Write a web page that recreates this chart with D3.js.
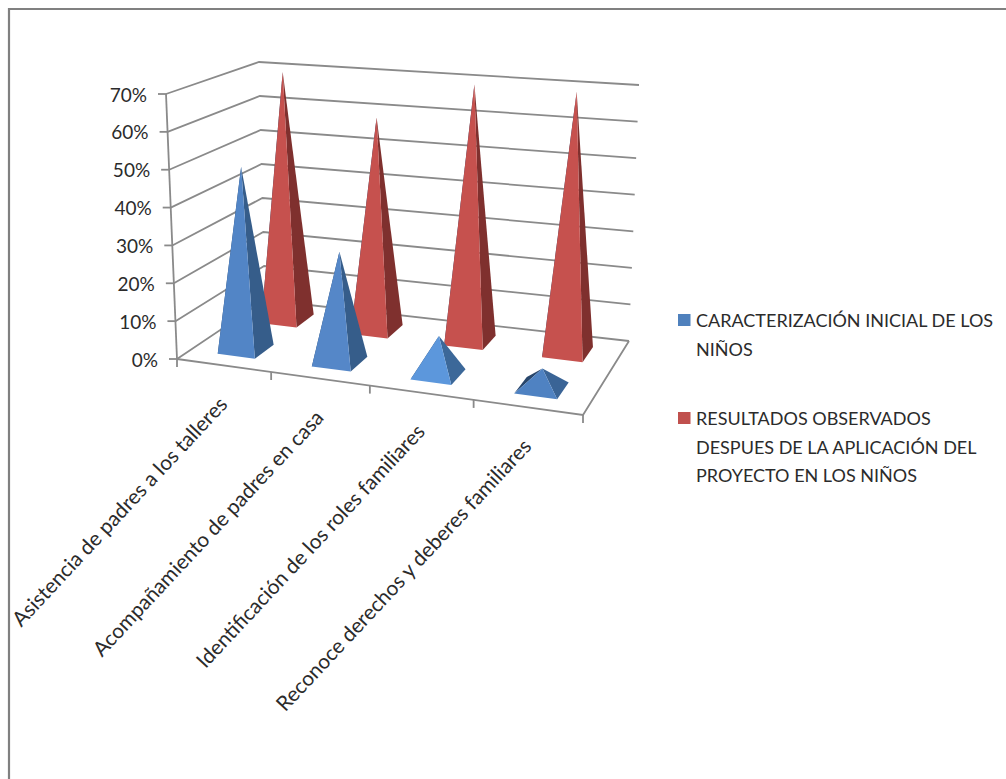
<!DOCTYPE html>
<html>
<head>
<meta charset="utf-8">
<script src="https://d3js.org/d3.v7.min.js"></script>
<style>
	body { margin: 0; background: #fff; }
	text { font-family: Lato, "Open Sans", sans-serif; fill: #2b2b2b; }
	.grid { stroke: #8a8a8a; stroke-width: 1.8; fill: none; }
</style>
</head>
<body>
<div id="viz"></div>
<script>
// data
categories = [
	'Asistencia de padres a los talleres',
	'Acompañamiento de padres en casa',
	'Identificación de los roles familiares',
	'Reconoce derechos y deberes familiares'
];
seriesNames = ['inicial', 'resultados'];
inicial = [49, 29, 10, 5];
resultados = [70, 59, 70, 70];
yTicks = [0, 10, 20, 30, 40, 50, 60, 70];
legendInicial = ['CARACTERIZACIÓN INICIAL DE LOS', 'NIÑOS'];
legendResultados = ['RESULTADOS OBSERVADOS', 'DESPUES DE LA APLICACIÓN DEL', 'PROYECTO EN LOS NIÑOS'];

// colours: front and side of each pyramid
blueFront = ['#5285c6', '#5587c8', '#5c97dc', '#4f82c2'];
blueSide = ['#365d8a', '#365d8a', '#3c6899', '#3a6496'];
blueBack = '#28466c';
redFront = '#c6514e';
redSide = '#7f302e';

width = 1006;
height = 779;

// the chart box as drawn: floor corners and top corners, in the order
// front left, front right, back right, back left
floorBox = [[177, 359], [583, 415], [629, 341], [265, 300]];
topBox = [[166, 94], [598, 132], [639, 85], [259, 62]];

// unit square -> quad perspective map
quadMap = function(q) {
	var dx1 = q[1][0] - q[2][0], dx2 = q[3][0] - q[2][0], sx = q[0][0] - q[1][0] + q[2][0] - q[3][0];
	var dy1 = q[1][1] - q[2][1], dy2 = q[3][1] - q[2][1], sy = q[0][1] - q[1][1] + q[2][1] - q[3][1];
	var den = dx1 * dy2 - dx2 * dy1;
	var g = (sx * dy2 - dx2 * sy) / den;
	var h = (dx1 * sy - sx * dy1) / den;
	var a = q[1][0] - q[0][0] + g * q[1][0], b = q[3][0] - q[0][0] + h * q[3][0];
	var d = q[1][1] - q[0][1] + g * q[1][1], e = q[3][1] - q[0][1] + h * q[3][1];
	return function(u, v) {
		var w = g * u + h * v + 1;
		return [(a * u + b * v + q[0][0]) / w, (d * u + e * v + q[0][1]) / w];
	};
};

perspective = quadMap(floorBox);

// blend of the four corners of a box, for one axis
blend = function(c, u, v) {
	return (1 - v) * ((1 - u) * c[0] + u * c[1]) + v * ((1 - u) * c[3] + u * c[2]);
};

// the picture's perspective is milder than the pure map, so soften it a bit
perspectiveShare = 0.72;
floorMap = function(u, v) {
	var p = perspective(u, v);
	return [0, 1].map(function(axis) {
		var flat = blend(floorBox.map(function(c) { return c[axis]; }), u, v);
		return p[axis] * perspectiveShare + flat * (1 - perspectiveShare);
	});
};

// how far the full height rises at a floor point
riseAt = function(u, v, axis) {
	var rise = topBox.map(function(t, i) { return t[axis] - floorBox[i][axis]; });
	return blend(rise, u, v);
};

// scales
yScale = d3.scaleLinear().domain([0, 70]).range([0, 1]);
xScale = d3.scaleBand().domain(categories).range([0, 1]).paddingInner(0.6).paddingOuter(0.3);
zScale = d3.scaleBand().domain(seriesNames).range([0, 1]).paddingInner(0.56).paddingOuter(0.28);
uTicks = d3.scaleLinear().domain([0, categories.length]).range([0, 1]);

project = function(u, v, value) {
	var f = floorMap(u, v), k = yScale(value);
	return [f[0] + riseAt(u, v, 0) * k, f[1] + riseAt(u, v, 1) * k];
};

svg = d3.select('#viz').append('svg')
	.attr('width', width)
	.attr('height', height);

// outer frame, only the top and left edges are in the picture
svg.append('path')
	.attr('d', 'M9,' + height + 'V9H' + width)
	.attr('fill', 'none')
	.attr('stroke', '#808080')
	.attr('stroke-width', 2.2);

line = d3.line();

// gridlines on both walls
grid = svg.append('g');
yTicks.forEach(function(t) {
	grid.append('path')
		.attr('class', 'grid')
		.attr('d', line([project(0, 0, t), project(0, 1, t), project(1, 1, t)]));
});

// left axis, its stubs and labels
grid.append('path')
	.attr('class', 'grid')
	.attr('d', line([project(0, 0, 0), project(0, 0, 70)]));

yTicks.forEach(function(t) {
	var p = project(0, 0, t);
	grid.append('path')
		.attr('class', 'grid')
		.attr('d', line([[p[0] - 8, p[1]], p]));
	svg.append('text')
		.text(t + '%')
		.attr('x', p[0] - 19)
		.attr('y', p[1] + 7.5)
		.attr('text-anchor', 'end')
		.attr('font-size', 19);
});

// floor edges and category stubs
grid.append('path')
	.attr('class', 'grid')
	.attr('d', line([project(0, 0, 0), project(1, 0, 0), project(1, 1, 0)]));

d3.range(categories.length + 1).forEach(function(i) {
	var p = project(uTicks(i), 0, 0);
	grid.append('path')
		.attr('class', 'grid')
		.attr('d', line([p, [p[0], p[1] + 8]]));
});

// pyramids, back row first so the front row covers it
drawPyramids = function(name, values, front, side) {
	var g = svg.append('g').attr('class', name);
	values.forEach(function(val, i) {
		var u0 = xScale(categories[i]), u1 = u0 + xScale.bandwidth();
		var v0 = zScale(name), v1 = v0 + zScale.bandwidth();
		var apex = project((u0 + u1) / 2, (v0 + v1) / 2, val);
		var fl = project(u0, v0, 0), fr = project(u1, v0, 0);
		var br = project(u1, v1, 0), bl = project(u0, v1, 0);
		g.append('path').attr('d', line([fl, bl, apex]) + 'Z').attr('fill', blueBack);
		g.append('path').attr('d', line([fr, br, apex]) + 'Z').attr('fill', side(i));
		g.append('path').attr('d', line([fl, fr, apex]) + 'Z').attr('fill', front(i));
	});
};

drawPyramids('resultados', resultados, function() { return redFront; }, function() { return redSide; });
drawPyramids('inicial', inicial, function(i) { return blueFront[i]; }, function(i) { return blueSide[i]; });

// category labels
categories.forEach(function(c, i) {
	var p = project(uTicks(i + 0.5), 0, 0);
	svg.append('text')
		.text(c)
		.attr('text-anchor', 'end')
		.attr('font-size', 20.8)
		.attr('transform', 'translate(' + (p[0] + 5) + ',' + (p[1] + 40) + ') rotate(-47)');
});

// legend
legend = svg.append('g');
drawLegend = function(lines, colour, y) {
	legend.append('rect')
		.attr('x', 678)
		.attr('y', y - 13)
		.attr('width', 12.5)
		.attr('height', 12)
		.attr('fill', colour);
	lines.forEach(function(l, i) {
		legend.append('text')
			.text(l)
			.attr('x', 696)
			.attr('y', y + i * 28.7)
			.attr('font-size', 18);
	});
};
drawLegend(legendInicial, '#4f81bd', 327);
drawLegend(legendResultados, '#c0504d', 425);
</script>
</body>
</html>
